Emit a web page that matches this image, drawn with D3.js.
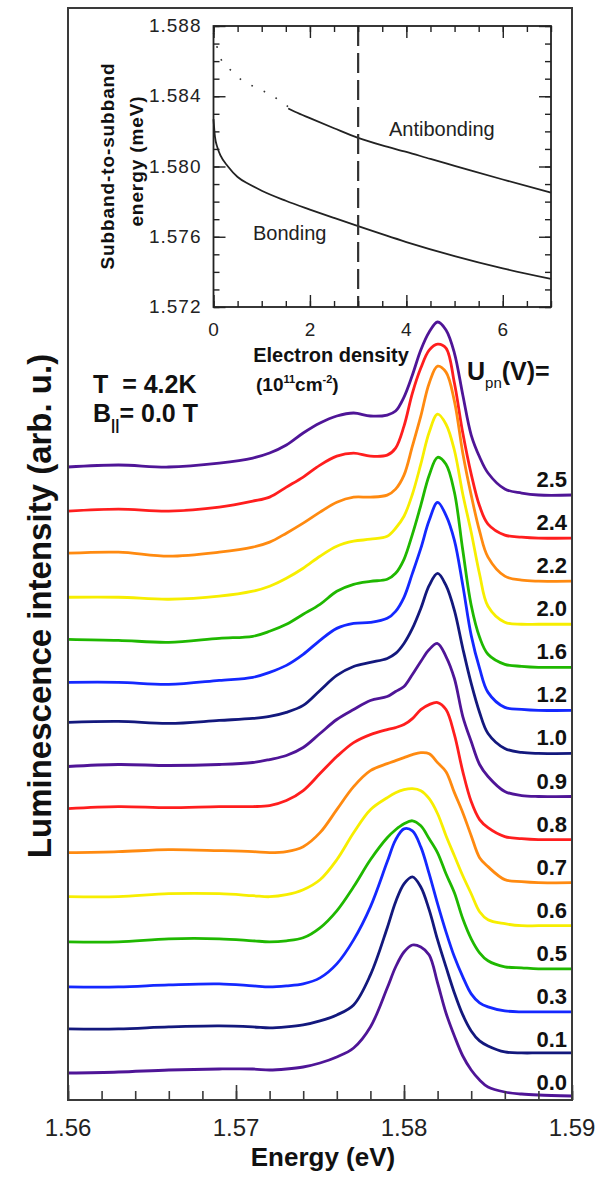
<!DOCTYPE html>
<html>
<head>
<meta charset="utf-8">
<script src="https://cdn.jsdelivr.net/npm/d3@7"></script>
<style>
body { margin: 0; background: #fff; }
text { font-family: "Liberation Sans", Arial, Helvetica, sans-serif; }
</style>
</head>
<body>
<div id="cnt"></div>
<script>
// photon energy grid (eV), shared by every spectrum
const energy = [1.560, 1.563, 1.566, 1.569, 1.571, 1.572, 1.573, 1.574, 1.575, 1.576, 1.577, 1.578, 1.579, 1.5795, 1.580,
    1.5805, 1.581, 1.5815, 1.582, 1.5825, 1.583, 1.5835, 1.584, 1.5845, 1.585, 1.586, 1.587, 1.588, 1.590]

// luminescence intensity (arb. u.) above each spectrum's own baseline
const spec00 = [25, 26, 28, 29, 29, 28, 29, 31, 35, 41, 50, 71, 110, 131, 146, 153, 151, 143, 115, 85, 62, 42, 28, 18, 11, 6, 4, 3, 2]
const spec01 = [26, 26, 28, 29, 28, 27, 28, 30, 34, 40, 50, 80, 127, 153, 171, 178, 168, 145, 115, 88, 62, 40, 24, 14, 9, 3, 2, 2, 2]
const spec03 = [25, 25, 27, 28, 26, 25, 26, 28, 34, 48, 72, 105, 150, 172, 183, 181, 165, 138, 108, 80, 55, 35, 18, 9, 5, 1, 0, 0, 0]
const spec05 = [27, 27, 30, 30, 28, 27, 28, 31, 41, 58, 82, 109, 131, 139, 145, 148, 143, 130, 116, 95, 76, 50, 30, 16, 8, 2, 1, 0, 0]
const spec06 = [29, 29, 32, 32, 30, 29, 31, 36, 46, 66, 93, 116, 128, 133, 136, 137, 135, 127, 112, 90, 70, 50, 32, 14, 6, 2, 0, 0, 0]
const spec07 = [30, 31, 33, 32, 31, 30, 31, 36, 50, 73, 96, 112, 119, 122, 125, 128, 130, 129, 120, 111, 90, 70, 47, 25, 16, 3, 1, 0, 0]
const spec08 = [31, 33, 32, 33, 33, 34, 39, 49, 66, 83, 97, 105, 110, 112, 115, 121, 130, 135, 137, 130, 105, 68, 38, 20, 12, 3, 1, 0, 0]
const spec09 = [30, 32, 31, 32, 34, 37, 41, 49, 63, 77, 87, 96, 100, 105, 110, 122, 135, 147, 153, 140, 118, 80, 55, 32, 20, 5, 1, 0, 0]
const spec10 = [31, 32, 30, 33, 35, 37, 41, 48, 63, 78, 87, 91, 95, 100, 110, 125, 145, 168, 180, 168, 143, 105, 70, 41, 20, 5, 1, 0, 0]
const spec12 = [28, 28, 26, 30, 33, 38, 45, 56, 70, 82, 87, 88, 92, 99, 113, 137, 162, 190, 208, 195, 170, 125, 75, 42, 18, 3, 1, 0, 0]
const spec16 = [28, 27, 25, 29, 31, 36, 43, 53, 63, 76, 83, 86, 88, 94, 108, 133, 162, 192, 210, 203, 175, 117, 62, 30, 13, 3, 1, 0, 0]
const spec20 = [27, 27, 25, 28, 33, 38, 46, 56, 68, 78, 83, 85, 88, 96, 108, 130, 160, 192, 210, 200, 174, 130, 92, 50, 18, 2, 0, 0, 0]
const spec22 = [28, 29, 25, 29, 34, 39, 48, 58, 69, 79, 84, 84, 86, 92, 106, 135, 165, 198, 215, 209, 180, 128, 86, 50, 24, 5, 1, 0, 0]
const spec24 = [27, 29, 27, 31, 37, 41, 51, 61, 73, 82, 85, 82, 83, 90, 112, 145, 170, 188, 194, 190, 155, 105, 64, 32, 14, 3, 1, 0, 0]
const spec25 = [28, 30, 28, 32, 37, 42, 50, 62, 72, 79, 82, 79, 80, 84, 98, 120, 145, 163, 173, 165, 142, 100, 60, 38, 22, 6, 2, 0, 0]

const spectra = [spec00, spec01, spec03, spec05, spec06, spec07, spec08, spec09, spec10, spec12, spec16, spec20, spec22, spec24, spec25]
const voltages = ['0.0', '0.1', '0.3', '0.5', '0.6', '0.7', '0.8', '0.9', '1.0', '1.2', '1.6', '2.0', '2.2', '2.4', '2.5']
const colors = ['#4f1597', '#13187d', '#1428ff', '#1fb800', '#f7ee00', '#ff8a10', '#ff1e1e',
    '#4f1597', '#13187d', '#1428ff', '#1fb800', '#f7ee00', '#ff8a10', '#ff1e1e', '#4f1597']
const offsetStep = 43.07

const energyTicks = [1.56, 1.57, 1.58, 1.59]

// inset: subband-to-subband energy vs electron density
const bondingN = [0, 0.03, 0.08, 0.15, 0.3, 0.5, 0.75, 1, 1.5, 2, 2.5, 3, 4, 5, 6, 7]
const bondingE = [1.5827, 1.5817, 1.5811, 1.5806, 1.5800, 1.5794, 1.57898, 1.57862, 1.57805, 1.57755, 1.57707, 1.5766, 1.5757, 1.5749, 1.5742, 1.5736]
const antiDotN = [0, 0.05, 0.1, 0.2, 0.35, 0.5, 0.8, 1.1, 1.35, 1.55]
const antiDotE = [1.5876, 1.5871, 1.5865, 1.5859, 1.5855, 1.5851, 1.5846, 1.5842, 1.5838, 1.5834]
const antiN = [1.55, 1.7, 2, 2.5, 3, 3.5, 4, 4.5, 5, 6, 7]
const antiE = [1.5833, 1.5831, 1.58275, 1.58218, 1.58163, 1.5812, 1.58083, 1.58043, 1.58004, 1.57926, 1.57851]
const densityTicks = [0, 2, 4, 6]
const subbandTicks = [1.572, 1.576, 1.580, 1.584, 1.588]
const fieldDensity = 3

const W = 607, H = 1182
const frame = { left: 68, right: 572, top: 8, bottom: 1100 }
const inset = { left: 213.5, right: 551, top: 26, bottom: 307 }
const axisColor = '#3a3a3a'

const svg = d3.select('#cnt')
    .append('svg')
    .attr('width', W)
    .attr('height', H)

const x = d3.scaleLinear().domain([1.56, 1.59]).range([frame.left, frame.right])
const y = d3.scaleLinear().domain([-2, 1090]).range([frame.bottom, frame.top])

// spectra, top one drawn first
const line = d3.line()
    .x((d, i) => x(energy[i]))
    .curve(d3.curveCatmullRom.alpha(0.5))

svg.append('g')
    .selectAll('path')
    .data(spectra.map((s, k) => ({ s, k })).reverse())
    .join('path')
    .attr('fill', 'none')
    .attr('stroke', d => colors[d.k])
    .attr('stroke-width', 2.8)
    .attr('stroke-linejoin', 'round')
    .attr('d', d => line.y(v => y(v + d.k * offsetStep))(d.s))

svg.append('g')
    .selectAll('text')
    .data(voltages)
    .join('text')
    .attr('x', frame.right - 5)
    .attr('y', (v, k) => y(k * offsetStep) - 8)
    .attr('text-anchor', 'end')
    .attr('font-size', 22)
    .attr('font-weight', 'bold')
    .attr('fill', '#111')
    .text(v => v)

// main frame and energy axis (ticks point inward)
svg.append('rect')
    .attr('x', frame.left)
    .attr('y', frame.top)
    .attr('width', frame.right - frame.left)
    .attr('height', frame.bottom - frame.top)
    .attr('fill', 'none')
    .attr('stroke', axisColor)
    .attr('stroke-width', 2)

const minorE = d3.range(0, 16).map(i => 1.56 + i * 0.002)
svg.append('g')
    .attr('transform', `translate(0,${frame.bottom})`)
    .call(d3.axisTop(x).tickValues(minorE).tickSize(9).tickFormat(''))
    .call(g => g.select('.domain').remove())
    .call(g => g.selectAll('line').attr('stroke', axisColor).attr('stroke-width', 1.6))
svg.append('g')
    .attr('transform', `translate(0,${frame.bottom})`)
    .call(d3.axisTop(x).tickValues(energyTicks).tickSize(15).tickFormat(''))
    .call(g => g.select('.domain').remove())
    .call(g => g.selectAll('line').attr('stroke', axisColor).attr('stroke-width', 1.6))

svg.append('g')
    .selectAll('text')
    .data(energyTicks)
    .join('text')
    .attr('x', d => x(d))
    .attr('y', 1136)
    .attr('text-anchor', 'middle')
    .attr('font-size', 24)
    .attr('fill', '#222')
    .text(d => d3.format('.2f')(d))

svg.append('text')
    .attr('x', 323)
    .attr('y', 1166)
    .attr('text-anchor', 'middle')
    .attr('font-size', 26)
    .attr('font-weight', 'bold')
    .attr('fill', '#111')
    .text('Energy (eV)')

svg.append('text')
    .attr('transform', 'translate(51,606) rotate(-90)')
    .attr('text-anchor', 'middle')
    .attr('font-size', 33)
    .attr('font-weight', 'bold')
    .attr('fill', '#111')
    .text('Luminescence intensity (arb. u.)')

// annotations
svg.append('text')
    .attr('x', 93).attr('y', 393)
    .attr('font-size', 25).attr('font-weight', 'bold').attr('fill', '#111')
    .attr('xml:space', 'preserve')
    .text('T  = 4.2K')

const bText = svg.append('text')
    .attr('x', 93).attr('y', 422)
    .attr('font-size', 25).attr('font-weight', 'bold').attr('fill', '#111')
bText.append('tspan').text('B')
bText.append('tspan').attr('font-size', 15).attr('dy', 8).text('||')
bText.append('tspan').attr('dy', -8).text('= 0.0 T')

const uText = svg.append('text')
    .attr('x', 467).attr('y', 380)
    .attr('font-size', 25).attr('font-weight', 'bold').attr('fill', '#111')
uText.append('tspan').text('U')
uText.append('tspan').attr('font-size', 15).attr('font-weight', 'normal').attr('dy', 8).text('pn')
uText.append('tspan').attr('dy', -8).text('(V)=')

// inset
const xi = d3.scaleLinear().domain([0, 7]).range([inset.left, inset.right])
const yi = d3.scaleLinear().domain([1.572, 1.588]).range([inset.bottom, inset.top])
const gi = svg.append('g')

const insetLine = d3.line()
    .x(d => xi(d[0]))
    .y(d => yi(d[1]))
    .curve(d3.curveMonotoneX)

gi.append('path')
    .attr('d', insetLine(d3.zip(bondingN, bondingE)))
    .attr('fill', 'none').attr('stroke', '#222').attr('stroke-width', 1.8)
gi.append('path')
    .attr('d', insetLine(d3.zip(antiN, antiE)))
    .attr('fill', 'none').attr('stroke', '#222').attr('stroke-width', 1.8)
gi.append('path')
    .attr('d', insetLine(d3.zip(antiDotN, antiDotE)))
    .attr('fill', 'none').attr('stroke', '#333').attr('stroke-width', 1.6)
    .attr('stroke-dasharray', '1.6,12')
gi.append('line')
    .attr('x1', xi(fieldDensity)).attr('x2', xi(fieldDensity))
    .attr('y1', yi(1.588)).attr('y2', yi(1.572))
    .attr('stroke', '#333').attr('stroke-width', 2.2)
    .attr('stroke-dasharray', '20,7')

gi.append('rect')
    .attr('x', inset.left).attr('y', inset.top)
    .attr('width', inset.right - inset.left)
    .attr('height', inset.bottom - inset.top)
    .attr('fill', 'none').attr('stroke', '#222').attr('stroke-width', 1.8)

const minorN = d3.range(0, 15).map(i => i * 0.5)
const minorS = d3.range(0, 17).map(i => 1.572 + i * 0.001)
const tickStyle = g => g.call(s => s.select('.domain').remove())
    .call(s => s.selectAll('line').attr('stroke', '#222').attr('stroke-width', 1.4))
const addTicks = (axis, tx, ty) => gi.append('g')
    .attr('transform', `translate(${tx},${ty})`)
    .call(axis)
    .call(tickStyle)

addTicks(d3.axisTop(xi).tickValues(minorN).tickSize(6).tickFormat(''), 0, inset.bottom)
addTicks(d3.axisTop(xi).tickValues(densityTicks).tickSize(12).tickFormat(''), 0, inset.bottom)
addTicks(d3.axisBottom(xi).tickValues(minorN).tickSize(6).tickFormat(''), 0, inset.top)
addTicks(d3.axisBottom(xi).tickValues(densityTicks).tickSize(12).tickFormat(''), 0, inset.top)
addTicks(d3.axisRight(yi).tickValues(minorS).tickSize(6).tickFormat(''), inset.left, 0)
addTicks(d3.axisRight(yi).tickValues(subbandTicks).tickSize(12).tickFormat(''), inset.left, 0)
addTicks(d3.axisLeft(yi).tickValues(minorS).tickSize(6).tickFormat(''), inset.right, 0)
addTicks(d3.axisLeft(yi).tickValues(subbandTicks).tickSize(12).tickFormat(''), inset.right, 0)

gi.append('g')
    .selectAll('text')
    .data(subbandTicks)
    .join('text')
    .attr('x', inset.left - 12)
    .attr('y', d => yi(d) + 6)
    .attr('text-anchor', 'end')
    .attr('font-size', 19)
    .attr('letter-spacing', 1)
    .attr('fill', '#222')
    .text(d => d3.format('.3f')(d))

gi.append('g')
    .selectAll('text')
    .data(densityTicks)
    .join('text')
    .attr('x', d => xi(d))
    .attr('y', 336)
    .attr('text-anchor', 'middle')
    .attr('font-size', 19)
    .attr('fill', '#222')
    .text(d => d)

gi.append('text')
    .attr('x', 331).attr('y', 362)
    .attr('text-anchor', 'middle')
    .attr('font-size', 20).attr('font-weight', 'bold').attr('fill', '#111')
    .text('Electron density')

const unitText = gi.append('text')
    .attr('x', 256).attr('y', 391)
    .attr('font-size', 19).attr('font-weight', 'bold').attr('fill', '#111')
unitText.append('tspan').text('(10')
unitText.append('tspan').attr('font-size', 11).attr('dy', -8).text('11')
unitText.append('tspan').attr('dy', 8).text('cm')
unitText.append('tspan').attr('font-size', 11).attr('dy', -8).text('-2')
unitText.append('tspan').attr('dy', 8).text(')')

gi.append('text')
    .attr('transform', 'translate(114,166) rotate(-90)')
    .attr('text-anchor', 'middle')
    .attr('font-size', 19).attr('font-weight', 'bold').attr('fill', '#111')
    .attr('letter-spacing', 0.9)
    .text('Subband-to-subband')
gi.append('text')
    .attr('transform', 'translate(143,161) rotate(-90)')
    .attr('text-anchor', 'middle')
    .attr('font-size', 19).attr('font-weight', 'bold').attr('fill', '#111')
    .attr('letter-spacing', 0.9)
    .text('energy (meV)')

gi.append('text')
    .attr('x', 389).attr('y', 136)
    .attr('font-size', 20).attr('fill', '#222')
    .text('Antibonding')
gi.append('text')
    .attr('x', 253).attr('y', 240)
    .attr('font-size', 20).attr('fill', '#222')
    .text('Bonding')
</script>
</body>
</html>
